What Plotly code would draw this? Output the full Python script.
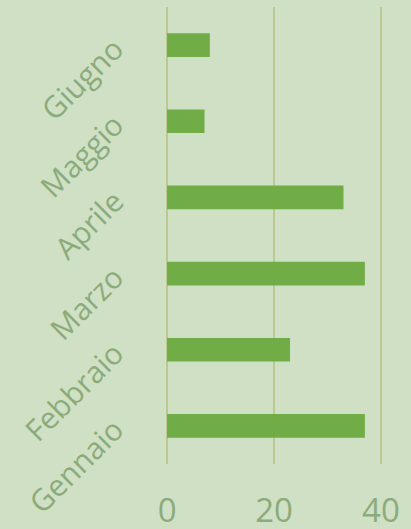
import plotly.graph_objects as go

months = ["Gennaio", "Febbraio", "Marzo", "Aprile", "Maggio", "Giugno"]
values = [37, 23, 37, 33, 7, 8]
x_ticks = [0, 20, 40]

BG = "#cfe0c5"
BAR = "#70ad47"
GRID = "#bcc88f"
TXT = "#8cab7a"

fig = go.Figure(go.Bar(
    y=months, x=values, orientation="h",
    marker=dict(color=BAR, line=dict(width=0)),
    width=0.31,
))
fig.update_layout(
    width=411, height=529,
    paper_bgcolor=BG, plot_bgcolor=BG,
    margin=dict(l=166, r=29, t=7, b=65, pad=0),
    font=dict(family="Open Sans", color=TXT),
    showlegend=False,
    xaxis=dict(range=[-0.2, 40.2], tickvals=x_ticks, showgrid=True, gridcolor=GRID,
               gridwidth=2, zeroline=False, showline=False, automargin=False,
               tickfont=dict(size=33, color=TXT), ticklabelstandoff=24, fixedrange=True),
    yaxis=dict(categoryorder="array", categoryarray=months, showgrid=False,
               zeroline=False, showline=False, tickangle=-45, automargin=False,
               tickfont=dict(size=30, color=TXT), ticklabelstandoff=50, fixedrange=True),
)
fig.write_html("out.html", config={"displayModeBar": False},
               post_script="document.body.style.margin='0';document.body.style.overflow='hidden';")
